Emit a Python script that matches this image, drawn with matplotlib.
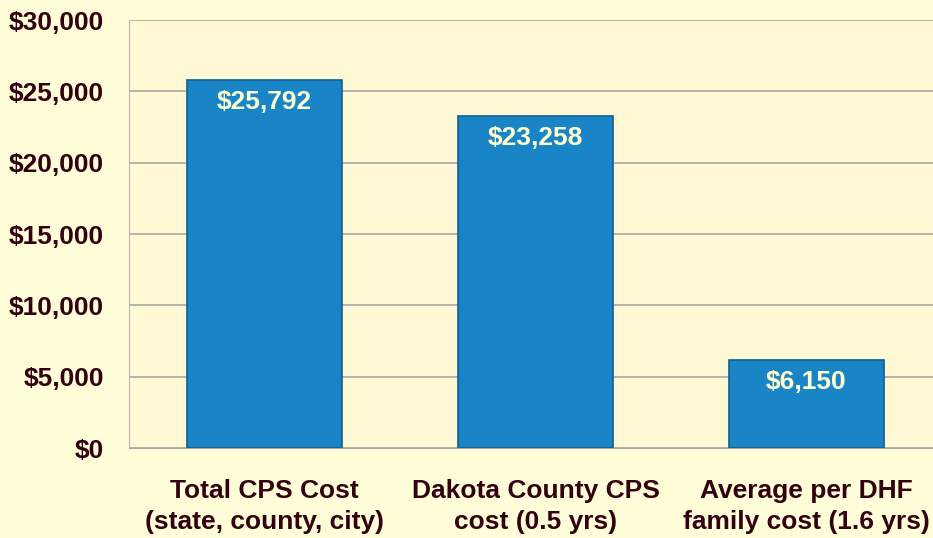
import matplotlib.pyplot as plt
from matplotlib.ticker import FuncFormatter

plt.rcParams['font.family'] = ['Liberation Sans', 'DejaVu Sans']

categories = ['Total CPS Cost\n(state, county, city)',
              'Dakota County CPS\ncost (0.5 yrs)',
              'Average per DHF\nfamily cost (1.6 yrs)']
costs = [25792, 23258, 6150]
value_labels = ['$25,792', '$23,258', '$6,150']
yticks = [0, 5000, 10000, 15000, 20000, 25000, 30000]

text_color = '#330011'
bg = '#FFFED8'

fig = plt.figure(figsize=(9.33, 5.38), dpi=100, facecolor=bg)
ax = fig.add_axes([129 / 933, 1 - 448 / 538, 813 / 933, 428 / 538])
ax.set_facecolor('#FFF9D6')

x = range(len(categories))
bars = ax.bar(x, costs, width=0.572, color='#1A85C6', edgecolor='#0E5F91',
              linewidth=1.2, zorder=3)

for b, lab in zip(bars, value_labels):
    ax.annotate(lab, (b.get_x() + b.get_width() / 2, b.get_height()),
                xytext=(0, -22), textcoords='offset pixels',
                ha='center', va='center', fontsize=19, fontweight='bold',
                color='#FFFFD0', zorder=4)

ax.set_xlim(-0.5, 2.5)
ax.set_ylim(0, 30000)
ax.set_yticks(yticks)
ax.yaxis.set_major_formatter(FuncFormatter(lambda v, p: '${:,.0f}'.format(v)))
ax.set_xticks(list(x))
ax.set_xticklabels(categories, linespacing=1.4)
ax.grid(axis='y', color='#A8A8A0', linewidth=1.2, zorder=1)
ax.tick_params(length=0, labelsize=19, labelcolor=text_color)
ax.tick_params(axis='y', pad=18)
ax.tick_params(axis='x', pad=22)
for lab in ax.get_xticklabels() + ax.get_yticklabels():
    lab.set_fontweight('bold')

for s in ['top', 'right']:
    ax.spines[s].set_visible(False)
ax.spines['left'].set_color('#B8B8B0')
ax.spines['bottom'].set_color('#A8A8A0')

fig.savefig('out.png', dpi=100, facecolor=bg)
